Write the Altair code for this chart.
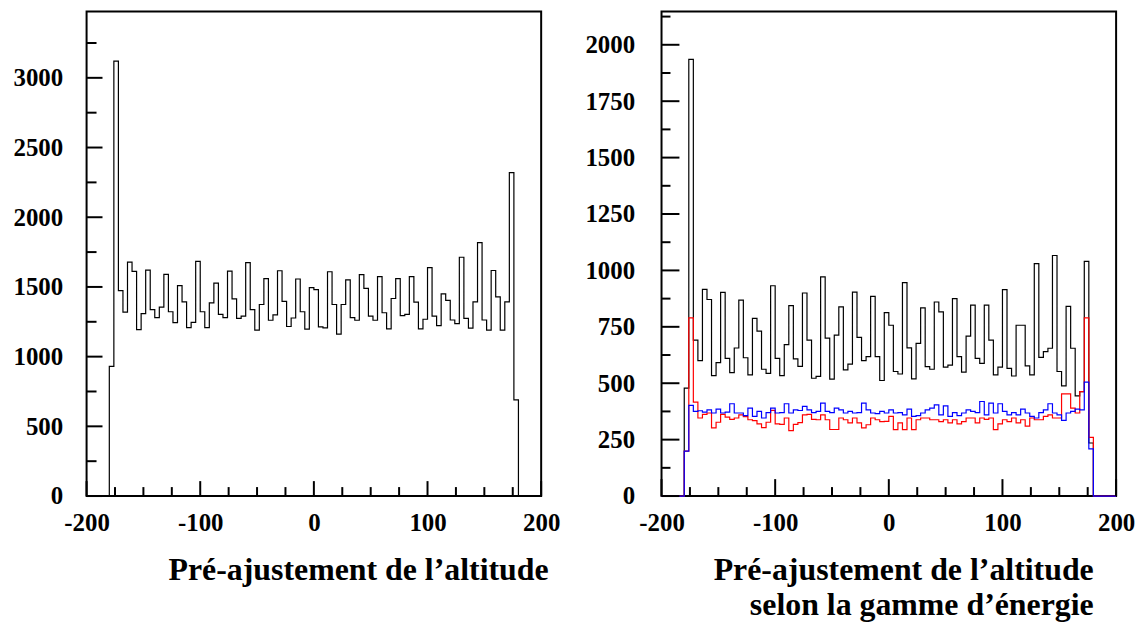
import altair as alt
import pandas as pd

FONT = "Liberation Serif"

# histogram binning (bin lower edges start at -180, width 4) and axis range
bin_low = -180
bin_width = 4
range_lo, range_hi = -200, 200

# Left panel: single histogram (90 bins)
left_counts = [930, 3120, 1474, 1320, 1678, 1611, 1194, 1308, 1621, 1337,
               1280, 1355, 1590, 1322, 1244, 1510, 1393, 1208, 1246, 1683,
               1322, 1208, 1386, 1528, 1303, 1280, 1614, 1415, 1275, 1291,
               1675, 1337, 1190, 1374, 1559, 1261, 1299, 1616, 1396, 1216,
               1277, 1557, 1322, 1197, 1495, 1481, 1213, 1206, 1609, 1374,
               1161, 1374, 1550, 1280, 1261, 1588, 1490, 1291, 1261, 1574,
               1315, 1199, 1417, 1559, 1294, 1303, 1574, 1391, 1199, 1268,
               1638, 1291, 1223, 1450, 1403, 1263, 1237, 1713, 1275, 1204,
               1393, 1818, 1263, 1190, 1618, 1429, 1190, 1393, 2320, 690]

# Right panel: three histograms by energy range
black_counts = [478, 1935, 691, 600, 916, 871, 534, 591, 903, 610,
                547, 656, 868, 613, 537, 787, 731, 562, 544, 932,
                610, 534, 671, 844, 608, 575, 900, 691, 522, 530,
                971, 700, 518, 713, 838, 559, 585, 904, 703, 600,
                618, 885, 618, 512, 813, 757, 552, 541, 946, 657,
                519, 677, 834, 574, 562, 860, 816, 571, 580, 875,
                618, 549, 709, 846, 610, 588, 846, 691, 537, 571,
                915, 566, 532, 757, 757, 577, 537, 1030, 615, 640,
                655, 1066, 552, 488, 841, 655, 444, 463, 1040, 235]

red_counts = [199, 790, 416, 346, 362, 368, 302, 327, 362, 350,
              340, 346, 360, 352, 338, 334, 320, 303, 327, 380,
              320, 318, 346, 290, 318, 325, 360, 362, 340, 338,
              360, 338, 295, 295, 346, 338, 324, 346, 324, 302,
              316, 346, 338, 330, 331, 353, 294, 324, 294, 346,
              294, 338, 346, 346, 338, 338, 330, 338, 324, 338,
              320, 330, 346, 346, 324, 346, 340, 346, 294, 320,
              338, 330, 346, 324, 338, 310, 346, 338, 338, 353,
              360, 346, 346, 453, 453, 390, 368, 463, 790, 260]

blue_counts = [199, 402, 375, 378, 372, 382, 368, 385, 368, 372,
               409, 368, 368, 356, 390, 353, 375, 346, 370, 390,
               368, 370, 409, 368, 382, 379, 397, 382, 370, 375,
               412, 375, 370, 390, 382, 368, 375, 368, 370, 412,
               382, 368, 365, 375, 368, 382, 368, 370, 360, 385,
               353, 356, 368, 382, 390, 404, 360, 400, 353, 370,
               356, 368, 382, 375, 370, 419, 360, 412, 368, 409,
               375, 360, 370, 360, 385, 368, 353, 346, 370, 382,
               409, 368, 360, 335, 368, 375, 385, 382, 505, 209]

# axis ticks / labels
x_major = [-200, -100, 0, 100, 200]
x_minor = [-175, -150, -125, -75, -50, -25, 25, 50, 75, 125, 150, 175]
left_y_major = [0, 500, 1000, 1500, 2000, 2500, 3000]
left_y_minor = [250, 750, 1250, 1750, 2250, 2750, 3250]
right_y_major = [0, 250, 500, 750, 1000, 1250, 1500, 1750, 2000]
right_y_minor = [125, 375, 625, 875, 1125, 1375, 1625, 1875, 2125]

left_title = "Pré-ajustement de l’altitude"
right_title = ["Pré-ajustement de l’altitude", "selon la gamme d’énergie"]

LEFT_YMAX = 3475
RIGHT_YMAX = 2147
W = 457
H = 487


def step_rows(counts, pad):
    n = len(counts)
    xs = [bin_low + bin_width * i for i in range(n)]
    hi = bin_low + bin_width * n
    pts = [(range_lo if pad else bin_low, 0)]
    pts += list(zip(xs, counts))
    pts.append((hi, 0))
    if pad:
        pts.append((range_hi, 0))
    return pd.DataFrame({"x": [p[0] for p in pts],
                         "y": [p[1] for p in pts],
                         "i": list(range(len(pts)))})


def panel(series, ymax, ymaj, ymin, ytl, xtl, title, title_x, title_y, ylab_pad):
    xscale = alt.Scale(domain=[range_lo, range_hi], nice=False, zero=False)
    yscale = alt.Scale(domain=[0, ymax], nice=False)
    xaxis = alt.Axis(values=x_major, ticks=False, domain=False, grid=False,
                     labelExpr="'' + datum.value", labelPadding=15,
                     labelFlush=False, labelOverlap=False,
                     title=title, titleX=title_x, titleY=title_y,
                     titleAlign="right", titleBaseline="alphabetic",
                     titleLineHeight=35)
    yaxis = alt.Axis(values=ymaj, ticks=False, domain=False, grid=False,
                     labelExpr="'' + datum.value",
                     labelPadding=ylab_pad, labelFlush=False, labelOverlap=False,
                     title=None)
    layers = []
    for k, (counts, color, pad) in enumerate(series):
        df = step_rows(counts, pad)
        if k == 0:
            xenc = alt.X("x:Q", scale=xscale, axis=xaxis)
            yenc = alt.Y("y:Q", scale=yscale, axis=yaxis)
        else:
            xenc = alt.X("x:Q", scale=xscale)
            yenc = alt.Y("y:Q", scale=yscale)
        layers.append(
            alt.Chart(df).mark_line(interpolate="step-after", color=color,
                                    strokeWidth=1.2)
            .encode(x=xenc, y=yenc, order=alt.Order("i:Q"))
        )

    # inward ticks drawn from the tick-value lists
    def yrules(vals, length):
        return alt.Chart(pd.DataFrame({"y": vals})).mark_rule(color="black", strokeWidth=2).encode(
            y=alt.Y("y:Q", scale=yscale), x=alt.value(0), x2=alt.value(length))

    def xrules(vals, length):
        return alt.Chart(pd.DataFrame({"x": vals})).mark_rule(color="black", strokeWidth=2).encode(
            x=alt.X("x:Q", scale=xscale), y=alt.value(H), y2=alt.value(H - length))

    layers += [yrules(ymaj, ytl[0]), yrules(ymin, ytl[1]),
               xrules(x_major, xtl[0]), xrules(x_minor, xtl[1])]
    return alt.layer(*layers).properties(width=W, height=H)


left = panel([(left_counts, "#000000", False)], LEFT_YMAX, left_y_major, left_y_minor,
             (16, 10), (15, 9), left_title, 464, 84, 24)
right = panel([(black_counts, "#000000", True), (red_counts, "#ff0000", True),
               (blue_counts, "#0000ff", True)],
              RIGHT_YMAX, right_y_major, right_y_minor,
              (18, 9), (17, 9), right_title, 434, 84, 27)

chart = (
    alt.hconcat(left, right, spacing=23)
    .properties(padding={"left": 4, "top": 1, "right": 0, "bottom": 0})
    .configure_view(stroke="black", strokeWidth=2)
    .configure_axis(labelFont=FONT, labelFontSize=25, labelFontWeight="bold",
                    labelColor="black", titleFont=FONT, titleFontSize=32,
                    titleFontWeight="bold", titleColor="black")
)

chart.save("out.html", embed_options={"renderer": "svg", "actions": False})
